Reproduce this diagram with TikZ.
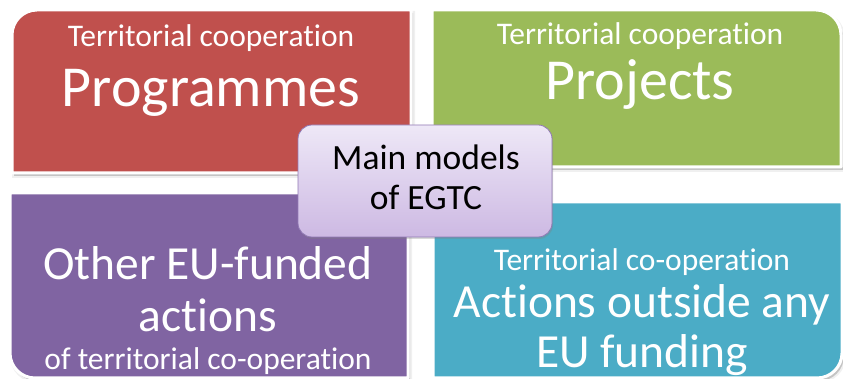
\documentclass[tikz,border=0pt]{standalone}
\usepackage{fontspec}
\setmainfont{Carlito}[Ligatures=NoCommon]
\usepackage{xcolor}
\usepackage{tikz}
\usetikzlibrary{positioning, shadows}

\definecolor{progred}{HTML}{C0504D}
\definecolor{projgreen}{HTML}{9BBB59}
\definecolor{otherpurple}{HTML}{8064A2}
\definecolor{outsideteal}{HTML}{4BACC6}
\definecolor{egtctop}{HTML}{EEE8F7}
\definecolor{egtcbottom}{HTML}{CDB9E3}
\definecolor{egtcline}{HTML}{9179B5}

\tikzset{
  quadrant/.style={draw=white, line width=3pt, line join=round},
  quadshadow/.style={fill=black, opacity=0.18, draw=black, draw opacity=0.06, line width=4pt},
  smalltxt/.style={text=white, anchor=base, inner sep=0pt, font=\fontsize{31.5}{35}\selectfont},
  bigtxt/.style={text=white, anchor=base, inner sep=0pt, font=\fontsize{58}{62}\selectfont},
  midtxt/.style={text=white, anchor=base, inner sep=0pt, font=\fontsize{47.5}{52}\selectfont},
  centretxt/.style={text=black, anchor=base, inner sep=0pt, font=\fontsize{35.5}{40}\selectfont}
}

\begin{document}
\begin{tikzpicture}[x=1pt, y=1pt]
            \useasboundingbox (0,0) rectangle (843,379);
            \fill[white] (0,0) rectangle (843,379);

            % shadows
            \begin{scope}[shift={(2,-3)}]
            \path[quadshadow] (12,206) -- (12,344) arc[start angle=180, end angle=90, radius=25] -- (411,369) -- (411,206) -- cycle;
            \path[quadshadow] (432,212) -- (432,369) -- (816,369) arc[start angle=90, end angle=0, radius=25] -- (841,212) -- cycle;
            \path[quadshadow] (10,186) -- (10,26) arc[start angle=180, end angle=270, radius=25] -- (408,1) -- (408,186) -- cycle;
            \path[quadshadow] (433,177) -- (433,1) -- (817,1) arc[start angle=270, end angle=360, radius=25] -- (842,177) -- cycle;
            \end{scope}

            % the four quadrants
            \filldraw[quadrant, fill=progred] (12,206) -- (12,344) arc[start angle=180, end angle=90, radius=25] -- (411,369) -- (411,206) -- cycle;
            \filldraw[quadrant, fill=projgreen] (432,212) -- (432,369) -- (816,369) arc[start angle=90, end angle=0, radius=25] -- (841,212) -- cycle;
            \filldraw[quadrant, fill=otherpurple] (10,186) -- (10,26) arc[start angle=180, end angle=270, radius=25] -- (408,1) -- (408,186) -- cycle;
            \filldraw[quadrant, fill=outsideteal] (433,177) -- (433,1) -- (817,1) arc[start angle=270, end angle=360, radius=25] -- (842,177) -- cycle;

            \node[smalltxt] (prog-sub) at (211,332) {Territorial cooperation};
            \node[bigtxt] (prog) at (211,272) {Programmes};

            \node[smalltxt] (proj-sub) at (640,334) {Territorial cooperation};
            \node[bigtxt] (proj) at (640,279) {Projects};

            \node[midtxt] (other) at (208,99) {Other EU-funded};
            \node[midtxt] (other-act) at (208,47) {actions};
            \node[smalltxt] (other-sub) at (208,9) {of territorial co-operation};

            \node[smalltxt] (outside-sub) at (642,108) {Territorial co-operation};
            \node[midtxt] (outside) at (642,61) {Actions outside any};
            \node[midtxt] (outside-eu) at (642,11) {EU funding};

            % centre box
            \node[draw=egtcline, line width=0.8pt, rounded corners=14pt,
                  top color=egtctop, bottom color=egtcbottom,
                  minimum width=254pt, minimum height=112pt,
                  drop shadow={shadow xshift=1pt, shadow yshift=-2pt, opacity=0.3}] (egtc) at (425,198) {};
            \node[centretxt] (egtc-top) at (426,209) {Main models};
            \node[centretxt] (egtc-bot) at (426,169) {of EGTC};
\end{tikzpicture}
\end{document}
